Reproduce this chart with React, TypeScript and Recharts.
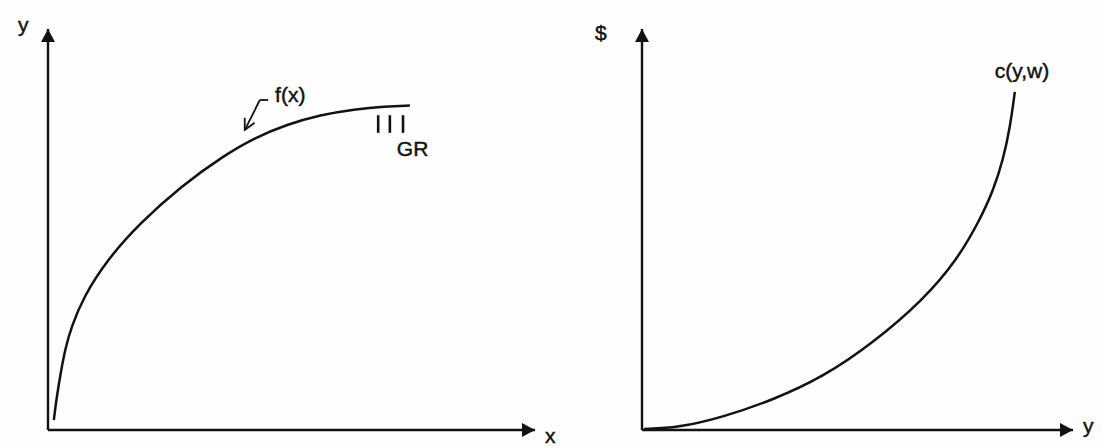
import { LineChart, Line, XAxis, YAxis, ReferenceLine, ReferenceDot } from 'recharts';

// left panel: production function f(x), input x vs output y
const inputX = [1.2, 1.7, 2.7, 3.6, 4.8, 7.3, 12.1, 18.9, 27.1, 36.3, 42.5, 49.1, 55.9, 63.0, 69.2, 74.3];
const outputY = [2.5, 7.5, 15.0, 20.5, 25.7, 33.2, 42.4, 51.6, 60.6, 68.6, 72.9, 76.2, 78.6, 80.0, 80.7, 80.9];

// right panel: cost function c(y,w), output y vs $
const outputLevels = [0.5, 8.1, 18.8, 30.4, 42.0, 53.6, 65.2, 73.1, 78.4, 81.6, 83.8, 85.4, 86.5];
const costs = [0.25, 0.5, 3.2, 7.5, 13.2, 21.7, 32.4, 42.4, 52.4, 60.0, 67.5, 75.5, 84.3];

// "GR" hash marks under the flat end of f(x), and the f(x) pointer
const grTicks = [67.8, 70.2, 72.9];
const grTickSpan = [74.1, 78.5];
const fxPointerX = [45.2, 43.5, 40.4];
const fxPointerY = [82.3, 82.3, 74.8];

const productionData = inputX.map((x, i) => ({ x, y: outputY[i] }));
const costData = outputLevels.map((x, i) => ({ x, y: costs[i] }));

const INK = '#121212';
const textStyle = {
  fontFamily: '"Liberation Sans", Arial, sans-serif',
  fontSize: 21,
  fill: INK,
  stroke: INK,
  strokeWidth: 0.45,
};

// places a text relative to the label's viewBox (start or end of it)
function placeText(text: string, dx: number, dy: number, fromEnd = false) {
  return (props: any) => {
    const vb = props.viewBox || {};
    const x = (vb.x ?? 0) + (fromEnd ? vb.width ?? 0 : 0) + dx;
    const y = (vb.y ?? 0) + dy;
    return (
      <text x={x} y={y} {...textStyle}>
        {text}
      </text>
    );
  };
}

const xAxisLine = { stroke: INK, strokeWidth: 2.4, markerEnd: 'url(#axisArrow)' };
const yAxisLine = { stroke: INK, strokeWidth: 2.4, markerStart: 'url(#axisArrow)' };

function ProductionChart() {
  const last = productionData[productionData.length - 1];
  return (
    <LineChart
      width={560}
      height={448}
      data={productionData}
      margin={{ top: 29, right: 25, bottom: 17, left: 47 }}
    >
      <XAxis
        type="number"
        dataKey="x"
        domain={[0, 100]}
        tick={false}
        tickLine={false}
        height={1}
        axisLine={xAxisLine}
        label={placeText('x', 10, 13, true)}
      />
      <YAxis
        type="number"
        domain={[0, 100]}
        tick={false}
        tickLine={false}
        width={1}
        axisLine={yAxisLine}
        label={placeText('y', -29, 3)}
      />
      <Line
        type="basis"
        dataKey="y"
        stroke={INK}
        strokeWidth={2.5}
        dot={false}
        isAnimationActive={false}
      />
      <ReferenceLine
        segment={[
          { x: fxPointerX[0], y: fxPointerY[0] },
          { x: fxPointerX[1], y: fxPointerY[1] },
        ]}
        stroke={INK}
        strokeWidth={1.8}
      />
      <ReferenceLine
        segment={[
          { x: fxPointerX[1], y: fxPointerY[1] },
          { x: fxPointerX[2], y: fxPointerY[2] },
        ]}
        stroke={INK}
        strokeWidth={1.8}
        markerEnd="url(#pointerArrow)"
      />
      <ReferenceDot
        x={fxPointerX[0]}
        y={fxPointerY[0]}
        r={0}
        fill="none"
        stroke="none"
        label={placeText('f(x)', 7, 2)}
      />
      {grTicks.map((t) => (
        <ReferenceLine
          key={t}
          segment={[
            { x: t, y: grTickSpan[0] },
            { x: t, y: grTickSpan[1] },
          ]}
          stroke={INK}
          strokeWidth={2.6}
        />
      ))}
      <ReferenceDot
        x={last.x}
        y={last.y}
        r={0}
        fill="none"
        stroke="none"
        label={placeText('GR', -13, 50)}
      />
    </LineChart>
  );
}

function CostChart() {
  const last = costData[costData.length - 1];
  return (
    <LineChart
      width={542}
      height={448}
      data={costData}
      margin={{ top: 29, right: 29, bottom: 17, left: 81 }}
    >
      <XAxis
        type="number"
        dataKey="x"
        domain={[0, 100]}
        tick={false}
        tickLine={false}
        height={1}
        axisLine={xAxisLine}
        label={placeText('y', 10, 3, true)}
      />
      <YAxis
        type="number"
        domain={[0, 100]}
        tick={false}
        tickLine={false}
        width={1}
        axisLine={yAxisLine}
        label={placeText('$', -46, 11)}
      />
      <Line
        type="basis"
        dataKey="y"
        stroke={INK}
        strokeWidth={2.5}
        dot={false}
        isAnimationActive={false}
      />
      <ReferenceDot
        x={last.x}
        y={last.y}
        r={0}
        fill="none"
        stroke="none"
        label={placeText('c(y,w)', -20, -14)}
      />
    </LineChart>
  );
}

export default function App() {
  return (
    <div
      style={{
        position: 'absolute',
        left: 0,
        top: 0,
        width: 1102,
        height: 448,
        background: '#fefefe',
      }}
    >
      <svg width={0} height={0} style={{ position: 'absolute' }}>
        <defs>
          <marker
            id="axisArrow"
            viewBox="0 0 13 14"
            refX={13}
            refY={7}
            markerWidth={13}
            markerHeight={14}
            markerUnits="userSpaceOnUse"
            orient="auto-start-reverse"
          >
            <path d="M0,0 L13,7 L0,14 Z" fill={INK} />
          </marker>
          <marker
            id="pointerArrow"
            viewBox="0 0 14 14"
            refX={13}
            refY={7}
            markerWidth={14}
            markerHeight={14}
            markerUnits="userSpaceOnUse"
            orient="auto"
          >
            <path d="M2,1.5 L13,7 L2,12.5" fill="none" stroke={INK} strokeWidth={1.8} />
          </marker>
        </defs>
      </svg>
      <div style={{ position: 'absolute', left: 0, top: 0 }}>
        <ProductionChart />
      </div>
      <div style={{ position: 'absolute', left: 560, top: 0 }}>
        <CostChart />
      </div>
    </div>
  );
}
